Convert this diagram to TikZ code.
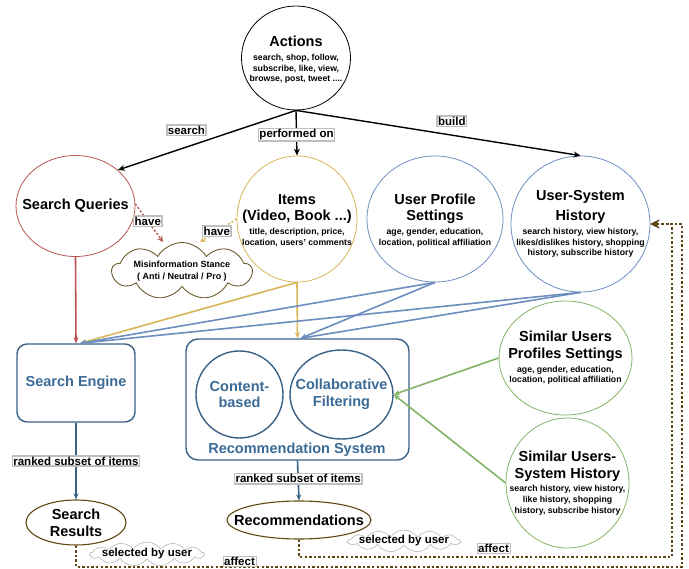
\documentclass[tikz,border=0pt]{standalone}
\usepackage{fontspec}
\setmainfont{Liberation Sans}
\usetikzlibrary{shapes.geometric,shapes.symbols,arrows.meta}
\definecolor{cred}{HTML}{B85450}
\definecolor{cgold}{HTML}{D6B656}
\definecolor{cblue}{HTML}{6C8EBF}
\definecolor{cgreen}{HTML}{82B366}
\definecolor{cdblue}{HTML}{3A6186}
\definecolor{ctblue}{HTML}{3A6A96}
\definecolor{cbrown}{HTML}{5E4713}
\definecolor{ccloud}{HTML}{6B5B2E}
\newcommand\Tbig{\fontsize{14.5}{17}\selectfont\bfseries}
\newcommand\Tsmall{\fontsize{8.7}{10.7}\selectfont\bfseries}
\newcommand\Tlab{\fontsize{11.5}{13}\selectfont\bfseries}
\begin{document}
\begin{tikzpicture}[x=1pt,y=-1pt,
  ell/.style={ellipse,draw,line width=0.8pt,inner sep=0pt},
  txt/.style={align=center,inner sep=0pt,font=\Tsmall},
  lab/.style={draw=black!25,fill=white,text=black,solid,inner sep=1pt,font=\Tlab},
  arr/.style={-{Stealth[length=7pt,width=6pt]},line width=1.4pt},
  conn/.style={-{Stealth[length=6pt,width=5pt]},line width=1.6pt},
  dot/.style={line width=2.6pt,cbrown,dash pattern=on 2.4pt off 2.2pt},
  cloudy/.style={cloud,draw,inner sep=0pt}
]
\useasboundingbox (0,0) rectangle (689,569);

% nodes
\node[ell,minimum width=109,minimum height=104,
  label={[txt,yshift=-2pt]center:{\Tbig Actions}\\[3pt]{\Tsmall search, shop, follow,}\\{\Tsmall subscribe, like, view,}\\{\Tsmall browse, post, tweet ....}}] (act) at (296,58) {};
\node[ell,draw=cred,minimum width=119,minimum height=101,
  label={[txt]center:{\Tbig Search Queries}}] (sq) at (75.5,206) {};
\node[ell,draw=cgold,minimum width=120,minimum height=126,
  label={[txt,yshift=-1.5pt]center:{\Tbig Items}\\[6pt]{\Tbig (Video, Book ...)}\\[3pt]{\Tsmall title, description, price,}\\{\Tsmall location, users' comments}}] (it) at (297,219) {};
\node[ell,draw=cblue,minimum width=136,minimum height=126,
  label={[txt,yshift=-1.5pt]center:{\Tbig User Profile}\\[6pt]{\Tbig Settings}\\[3pt]{\Tsmall age, gender, education,}\\{\Tsmall location, political affiliation}}] (ups) at (435,219) {};
\node[ell,draw=cblue,minimum width=139,minimum height=136,
  label={[txt]center:{\Tbig User-System}\\[6pt]{\Tbig History}\\[3pt]{\Tsmall search history, view history,}\\{\Tsmall likes/dislikes history, shopping}\\{\Tsmall history, subscribe history}}] (ush) at (580.5,224) {};
\node[cloudy,draw=ccloud,line width=0.9pt,cloud puffs=9,cloud puff arc=120,aspect=2.5,minimum width=140,minimum height=57,
  label={[txt]center:{\fontsize{9}{11}\selectfont\bfseries Misinformation Stance}\\[1pt]{\fontsize{9}{11}\selectfont\bfseries ( Anti / Neutral / Pro )}}] (mis) at (182,271) {};

\node[draw=cdblue,line width=1.4pt,rounded corners=10pt,minimum width=118,minimum height=78,text=ctblue,font=\Tbig] (se) at (76,383) {Search Engine};
\node[draw=cdblue,line width=1.4pt,rounded corners=12pt,minimum width=223,minimum height=121] (rs) at (297.5,399.5) {};
\node[font=\Tbig,text=ctblue,inner sep=0pt] (rsl) at (297,450) {Recommendation System};
\node[ell,draw=cdblue,line width=1.4pt,minimum width=87,minimum height=87,
  label={[txt,text=ctblue]center:{\Tbig Content-}\\[6pt]{\Tbig based}}] (cb) at (239.5,394.5) {};
\node[ell,draw=cdblue,line width=1.4pt,minimum width=103,minimum height=89,
  label={[txt,text=ctblue]center:{\Tbig Collaborative}\\[6pt]{\Tbig Filtering}}] (cf) at (341.5,394.5) {};

\node[ell,draw=cgreen,minimum width=133,minimum height=114,
  label={[txt]center:{\Tbig Similar Users}\\[6pt]{\Tbig Profiles Settings}\\[3pt]{\Tsmall age, gender, education,}\\{\Tsmall location, political affiliation}}] (sps) at (565.5,358) {};
\node[ell,draw=cgreen,minimum width=123,minimum height=130,
  label={[txt]center:{\Tbig Similar Users-}\\[6pt]{\Tbig System History}\\[3pt]{\Tsmall search history, view history,}\\{\Tsmall like history, shopping}\\{\Tsmall history, subscribe history}}] (ssh) at (567.5,483) {};

\node[ell,draw=cbrown,line width=1.1pt,minimum width=100,minimum height=45,
  label={[txt]center:{\Tbig Search}\\[6pt]{\Tbig Results}}] (sr) at (76,522.5) {};
\node[ell,draw=cbrown,line width=1.1pt,minimum width=144,minimum height=38,
  label={[txt]center:{\Tbig Recommendations}}] (rec) at (299,520) {};

\node[cloudy,draw=black!25,line width=0.7pt,cloud puffs=13,cloud puff arc=110,aspect=4.7,minimum width=114,minimum height=24,
  label={[txt,font=\Tlab]center:selected by user}] (sel1) at (147,554) {};
\node[cloudy,draw=black!25,line width=0.7pt,cloud puffs=13,cloud puff arc=110,aspect=4.7,minimum width=112,minimum height=22,
  label={[txt,font=\Tlab]center:selected by user}] (sel2) at (404,541) {};

% top connectors
\draw[arr] (act.south) -- node[lab,pos=0.615,yshift=17pt] {search} (sq.north east);
\draw[arr] (act.south) -- node[lab,pos=0.54] {performed on} (it.north);
\draw[arr] (act.south) -- node[lab,pos=0.548,yshift=14pt] {build} (ush.north);

% have
\draw[cred,line width=1.5pt,dash pattern=on 2pt off 2pt,-{Stealth[length=6pt,width=6pt]}] ([yshift=2pt]sq.east) -- node[lab,pos=0.45] {have} ([xshift=-19pt]mis.north);
\draw[cgold,line width=1.5pt,dash pattern=on 2pt off 2pt,-{Stealth[length=6pt,width=6pt]}] (it.west) -- node[lab,pos=0.54] {have} ([xshift=18pt]mis.north);

% to search engine / rec sys
\draw[conn,cred] (sq.south) -- (se.north);
\draw[conn,cgold] (it.south) -- ([xshift=4pt]se.north);
\draw[conn,cgold] (it.south) -- (rs.north);
\draw[conn,cblue] (ups.south) -- ([xshift=4pt]se.north);
\draw[conn,cblue] (ups.south) -- ([xshift=3pt]rs.north);
\draw[conn,cblue] (ush.south) -- ([xshift=4pt]se.north);
\draw[conn,cblue] (ush.south) -- ([xshift=3pt]rs.north);

\draw[conn,cgreen] (sps.west) -- (cf.east);
\draw[conn,cgreen] (ssh.west) -- (cf.east);

% outputs
\draw[conn,cdblue] (se.south) -- node[lab,pos=0.5] {ranked subset of items} (sr.north);
\draw[conn,cdblue] (rs.south) -- node[lab,pos=0.45] {ranked subset of items} (rec.north);

% feedback
\coordinate (c1) at (682,567);
\coordinate (c2) at (672,557);
\draw[dot,-{Stealth[length=9pt,width=9pt]}] (sr.south) |- (c1) |- (ush.east);
\draw[dot,-{Stealth[length=9pt,width=9pt]}] (rec.south) |- (c2) |- (ush.east);
\node[lab] (aff1) at (239.5,561) {affect};
\node[lab] (aff2) at (493.5,548) {affect};
\end{tikzpicture}
\end{document}
